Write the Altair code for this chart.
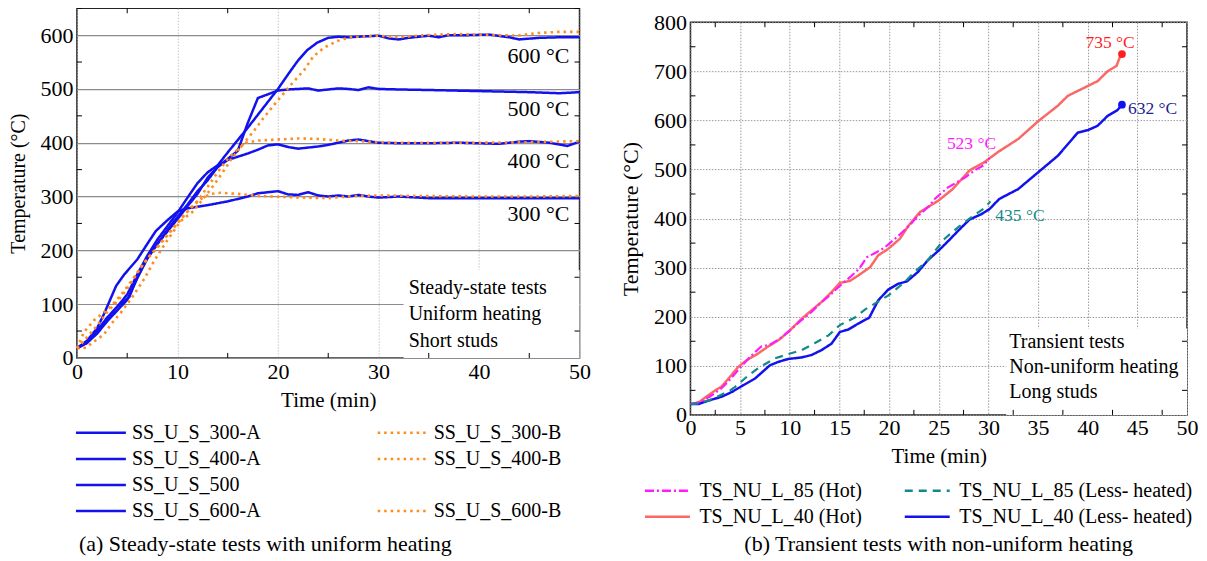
import altair as alt
import pandas as pd

FONT = "Liberation Serif"

# ---------------- Panel (a): steady-state tests, uniform heating ----------------
ss300a_t = [0, 1, 2, 2.7, 3.9, 4.7, 6, 7, 7.85, 9, 10, 11, 13, 15, 17, 18, 20, 21, 22, 23, 24, 25, 26, 27, 28, 29, 30, 32, 35, 40, 45, 50]
ss300a_T = [18, 32, 55, 82, 134, 155, 183, 212, 236, 256, 272, 278, 284, 291, 300, 306, 310, 304, 303, 308, 302, 300, 302, 300, 303, 300, 298, 300, 297, 297, 297, 297]

ss300b_t = [0, 0.7, 1.7, 2.5, 3.5, 4.5, 5.5, 6.5, 7.5, 8.5, 9.5, 10.5, 11.3, 12.3, 13.3, 14.3, 16, 17.6, 19.3, 21, 22.6, 25, 27.6, 30, 34, 40, 45, 50]
ss300b_T = [18, 48, 70, 82, 98, 120, 145, 172, 195, 218, 240, 262, 279, 295, 305, 307, 305, 302, 300, 299, 298, 297, 301, 302, 301, 300, 300, 301]

ss400a_t = [0, 1, 2, 3, 4, 5, 6, 7, 8, 9, 10, 11, 12, 13, 14, 15, 16, 17, 18, 19, 20, 21, 22, 23, 24, 25, 26, 27, 28, 29, 30, 32, 35, 38, 40, 42, 44, 45, 47, 48.8, 50]
ss400a_T = [18, 28, 45, 68, 88, 108, 148, 185, 212, 235, 258, 282, 305, 335, 355, 368, 374, 380, 387, 395, 397, 392, 389, 391, 393, 396, 400, 404, 406, 403, 400, 399, 399, 400, 399, 398, 402, 403, 400, 394, 402]

ss400b_t = [0, 1, 2, 3, 4, 5, 6, 7, 8, 9, 10, 11, 12, 13, 14, 15, 16, 16.8, 18, 20, 22, 24, 26, 28, 30, 32, 35, 40, 45, 50]
ss400b_T = [18, 38, 60, 85, 105, 128, 158, 185, 205, 228, 250, 272, 292, 318, 345, 370, 388, 400, 404, 406, 408, 407, 404, 403, 401, 400, 400, 400, 401, 403]

ss500_t = [0, 1, 2, 3, 4, 5, 5.2, 6, 7, 8, 9, 10, 11, 12, 13, 14, 15, 16, 17, 18, 19, 20, 21, 22, 23, 24, 25, 26, 27, 28, 29, 30, 32, 35, 40, 45, 48, 50]
ss500_T = [18, 30, 50, 75, 95, 110, 113, 150, 185, 212, 238, 262, 285, 310, 330, 355, 370, 385, 437, 483, 490, 497, 499, 500, 501, 497, 499, 501, 500, 498, 503, 500, 499, 498, 496, 494, 492, 494]

ss600a_t = [0, 1, 2, 3, 4, 5, 6, 7, 8, 9, 10, 11, 12, 13, 14, 15, 16, 17, 18, 19, 20, 21, 22, 22.9, 23.9, 25, 26, 27, 28, 29, 30, 31, 32, 33, 35, 36, 37, 39, 41, 43, 44, 46, 48, 50]
ss600a_T = [18, 28, 48, 72, 95, 118, 155, 190, 220, 245, 270, 298, 325, 345, 358, 382, 405, 428, 452, 476, 500, 527, 553, 572, 586, 595, 597, 596, 597, 598, 599, 594, 592, 595, 599, 596, 600, 600, 601, 596, 592, 595, 596, 596]

ss600b_t = [0, 0.9, 1.6, 2.7, 3.4, 4.4, 5.5, 6.7, 7.7, 9, 10.3, 11.6, 12.65, 13.65, 14.5, 15.3, 16, 17.6, 18.6, 19.95, 21.3, 22.6, 23.5, 24.6, 25.9, 27.2, 29.9, 31.9, 34.6, 37.9, 39.9, 43.8, 45.9, 47.9, 50]
ss600b_T = [18, 19, 29, 44, 63, 85, 113, 147, 181, 219, 254, 273, 298, 322, 345, 368, 385, 422, 447, 478, 508, 535, 560, 577, 589, 596, 599, 596, 600, 602, 601, 599, 604, 606, 606]

a_legend_order = ["SS_U_S_300-A", "SS_U_S_300-B", "SS_U_S_400-A", "SS_U_S_400-B",
                  "SS_U_S_500", " ", "SS_U_S_600-A", "SS_U_S_600-B"]
a_level_labels = ["600 °C", "500 °C", "400 °C", "300 °C"]
a_level_T = [561, 463, 366, 268]
a_box_lines = ["Steady-state tests", "Uniform heating", "Short studs"]
a_box_T = [130, 82, 32]

# ---------------- Panel (b): transient tests, non-uniform heating ----------------
l40_less_t = [0, 0.8, 1.8, 3.15, 4.2, 5.2, 6.5, 8.0, 8.85, 9.85, 11.2, 12.2, 13.2, 14.2, 15.05, 15.9, 16.9, 18.0, 18.9, 19.9, 20.9, 21.8, 22.9, 23.9, 25.0, 26.0, 27.0, 28.1, 29.3, 30.1, 31.1, 33.0, 35.0, 37.0, 39.0, 40.0, 41.0, 42.0, 43.0, 43.45]
l40_less_T = [22, 22, 29, 37, 47, 59, 74, 101, 108, 114, 117, 122, 132, 145, 169, 174, 186, 198, 233, 255, 267, 272, 291, 315, 335, 355, 376, 398, 409, 419, 440, 460, 494, 528, 575, 580, 589, 609, 621, 632]

l40_hot_t = [0, 0.8, 1.6, 2.5, 3.15, 4.0, 4.83, 5.7, 6.8, 7.8, 8.85, 9.86, 11.2, 12.2, 13.2, 14.2, 15.05, 16.06, 16.9, 18.1, 18.9, 19.9, 21.1, 21.9, 23.1, 25.0, 26.4, 28.1, 29.6, 31.0, 33.0, 35.0, 37.0, 38.0, 39.0, 40.0, 41.0, 42.0, 42.9, 43.2, 43.45]
l40_hot_T = [22, 25, 37, 50, 58, 78, 98, 112, 125, 139, 152, 169, 196, 213, 230, 250, 269, 273, 284, 301, 325, 338, 359, 384, 413, 437, 460, 498, 515, 536, 562, 598, 630, 650, 660, 670, 680, 700, 711, 727, 735]

l85_hot_t = [0, 1, 2, 3, 3.8, 5, 6, 7.1, 8, 9, 10, 11, 12, 13, 14, 15, 16.2, 17, 17.75, 18.6, 19.5, 20.9, 22, 22.9, 24, 24.6, 25.9, 27.6, 28.6, 29.5, 30.1]
l85_hot_T = [22, 26, 38, 52, 68, 96, 118, 139, 143, 155, 172, 190, 206, 226, 243, 262, 283, 298, 321, 330, 340, 364, 385, 405, 425, 440, 463, 483, 498, 508, 523]

l85_less_t = [0, 1, 2, 3, 4, 4.5, 5.7, 6.8, 8.5, 9.86, 11.2, 12.5, 13.9, 15.05, 16.6, 17.6, 19, 19.9, 21.6, 22.5, 23.9, 25.6, 27, 28.3, 29.65, 30.2]
l85_less_T = [22, 24, 31, 40, 50, 57, 78, 95, 115, 124, 132, 146, 162, 183, 199, 215, 232, 243, 271, 290, 315, 359, 383, 403, 422, 435]

b_legend_order = ["TS_NU_L_85 (Hot)", "TS_NU_L_85 (Less- heated)",
                  "TS_NU_L_40 (Hot)", "TS_NU_L_40 (Less- heated)"]
b_end_labels = ["735 °C", "632 °C", "523 °C", "435 °C"]
b_end_t = [42.25, 44.06, 28.3, 30.7]
b_end_T = [758, 623, 552, 406]
b_failure_t = [43.45, 43.45]
b_failure_T = [735, 632]
b_box_lines = ["Transient tests", "Non-uniform heating", "Long studs"]
b_box_T = [148, 97.5, 46.7]

# ---------------- styles ----------------
BLUE = "#1212EE"
ORANGE = "#FF8C1E"
MAGENTA = "#FF1AFF"
TEAL = "#138A8A"
SALMON = "#F96A66"
SOLID = [1, 0]
DOTTED = [2.5, 4]


def frame(field, name, t, T):
    assert len(t) == len(T), name
    return pd.DataFrame({field: name, "t": t, "T": T})


def axis_style(**kw):
    base = dict(domain=False, ticks=False, labelFont=FONT, labelFontSize=22, labelColor="black",
                titleFont=FONT, titleFontWeight="normal", titleColor="black",
                labelFlush=False, labelOverlap=False, labelPadding=4)
    base.update(kw)
    return alt.Axis(**base)


def minor_ticks(xe, ye, xs, ys, W, H):
    L = 5
    dx = pd.DataFrame({"t": xs})
    dy = pd.DataFrame({"T": ys})
    base = dict(color="black", strokeWidth=1)
    return [
        alt.Chart(dx).mark_rule(**base).encode(x=xe, y=alt.value(H), y2=alt.value(H - L)),
        alt.Chart(dx).mark_rule(**base).encode(x=xe, y=alt.value(0), y2=alt.value(L)),
        alt.Chart(dy).mark_rule(**base).encode(y=ye, x=alt.value(0), x2=alt.value(L)),
        alt.Chart(dy).mark_rule(**base).encode(y=ye, x=alt.value(W), x2=alt.value(W - L)),
    ]


# ---------------- panel (a) chart ----------------
WA, HA = 503, 350
xa = alt.X("t:Q", scale=alt.Scale(domain=[0, 50], nice=False, zero=False),
           axis=axis_style(values=list(range(0, 51, 10)), title="Time (min)", titleFontSize=21,
                           titlePadding=7, grid=True, gridDash=[1, 2], gridColor="#aaaaaa", gridWidth=1))
ya = alt.Y("T:Q", scale=alt.Scale(domain=[0, 650], nice=False, zero=False),
           axis=axis_style(values=list(range(0, 601, 100)), title="Temperature (°C)", titleFontSize=20,
                           titlePadding=11, grid=True, gridColor="#8c8c8c", gridWidth=1.2))

a_colors = [BLUE, ORANGE, BLUE, ORANGE, BLUE, "rgba(0,0,0,0)", BLUE, ORANGE]
a_dashes = [SOLID, DOTTED, SOLID, DOTTED, SOLID, SOLID, SOLID, DOTTED]
a_leg = alt.Legend(title=None, orient="none", legendX=14, legendY=415, columns=2, direction="horizontal",
                   padding=0, symbolType="M-5,0H5", symbolSize=100, symbolStrokeWidth=2.5,
                   labelFont=FONT, labelFontSize=20, labelColor="black", labelLimit=400,
                   labelOffset=21, rowPadding=6.1, columnPadding=112)
a_color = alt.Color("test:N", scale=alt.Scale(domain=a_legend_order, range=a_colors), legend=a_leg)
a_dash = alt.StrokeDash("test:N", scale=alt.Scale(domain=a_legend_order, range=a_dashes), legend=a_leg)

a_solid = pd.concat([frame("test", "SS_U_S_300-A", ss300a_t, ss300a_T),
                     frame("test", "SS_U_S_400-A", ss400a_t, ss400a_T),
                     frame("test", "SS_U_S_500", ss500_t, ss500_T),
                     frame("test", "SS_U_S_600-A", ss600a_t, ss600a_T)])
a_dot = pd.concat([frame("test", "SS_U_S_300-B", ss300b_t, ss300b_T),
                   frame("test", "SS_U_S_400-B", ss400b_t, ss400b_T),
                   frame("test", "SS_U_S_600-B", ss600b_t, ss600b_T)])

a_lines_solid = alt.Chart(a_solid).mark_line(strokeWidth=2.5, strokeCap="butt").encode(
    x=xa, y=ya, color=a_color, strokeDash=a_dash, detail="test:N")
a_lines_dot = alt.Chart(a_dot).mark_line(strokeWidth=2.6, strokeCap="butt").encode(
    x=xa, y=ya, color=a_color, strokeDash=a_dash, detail="test:N")

a_box = alt.Chart(pd.DataFrame({"t": [32.5], "t2": [50], "T": [0], "T2": [163]})).mark_rect(
    fill="white").encode(x=xa, x2="t2", y=ya, y2="T2")
a_box_text = alt.Chart(pd.DataFrame({"label": a_box_lines, "t": [33] * 3, "T": a_box_T})).mark_text(
    font=FONT, fontSize=20, align="left", baseline="middle", color="black").encode(x=xa, y=ya, text="label:N")
a_levels = alt.Chart(pd.DataFrame({"label": a_level_labels, "t": [49.0] * 4, "T": a_level_T})).mark_text(
    font=FONT, fontSize=22, align="right", baseline="middle", color="black").encode(x=xa, y=ya, text="label:N")

chart_a = alt.layer(
    a_lines_solid, a_lines_dot, a_box, a_box_text, a_levels,
    *minor_ticks(xa, ya, [5, 15, 25, 35, 45], list(range(50, 651, 100)), WA, HA)
).properties(
    width=WA, height=HA,
    title=alt.TitleParams(text="(a) Steady-state tests with uniform heating", orient="bottom",
                          anchor="middle", frame="group", dx=-63, offset=12, font=FONT,
                          fontSize=22, fontWeight="normal", color="black"))

# ---------------- panel (b) chart ----------------
WB, HB = 497, 393
xb = alt.X("t:Q", scale=alt.Scale(domain=[0, 50], nice=False, zero=False),
           axis=axis_style(values=list(range(0, 51, 5)), title="Time (min)", titleFontSize=21,
                           titlePadding=7, labelPadding=3, grid=True, gridDash=[1.5, 1.5],
                           gridColor="#999999", gridWidth=1))
yb = alt.Y("T:Q", scale=alt.Scale(domain=[0, 800], nice=False, zero=False),
           axis=axis_style(values=list(range(0, 801, 100)), title="Temperature (°C)", titleFontSize=22,
                           titlePadding=11, grid=True, gridDash=[1.5, 1.5], gridColor="#999999", gridWidth=1))

b_colors = [MAGENTA, TEAL, SALMON, BLUE]
b_dashes = [[9, 3, 2, 3], [8, 6], SOLID, SOLID]
b_leg = alt.Legend(title=None, orient="none", legendX=-33, legendY=473, columns=2, direction="horizontal",
                   padding=0, symbolType="M-5,0H5", symbolSize=81, symbolStrokeWidth=2.5,
                   labelFont=FONT, labelFontSize=20, labelColor="black", labelLimit=400,
                   labelOffset=22, rowPadding=6, columnPadding=37)
b_color = alt.Color("case:N", scale=alt.Scale(domain=b_legend_order, range=b_colors), legend=b_leg)
b_dash = alt.StrokeDash("case:N", scale=alt.Scale(domain=b_legend_order, range=b_dashes), legend=b_leg)

b_solid = pd.concat([frame("case", "TS_NU_L_40 (Hot)", l40_hot_t, l40_hot_T),
                     frame("case", "TS_NU_L_40 (Less- heated)", l40_less_t, l40_less_T)])
b_broken = pd.concat([frame("case", "TS_NU_L_85 (Hot)", l85_hot_t, l85_hot_T),
                      frame("case", "TS_NU_L_85 (Less- heated)", l85_less_t, l85_less_T)])

b_lines_solid = alt.Chart(b_solid).mark_line(strokeWidth=2.5).encode(
    x=xb, y=yb, color=b_color, strokeDash=b_dash, detail="case:N")
b_lines_broken = alt.Chart(b_broken).mark_line(strokeWidth=2.2, strokeCap="butt").encode(
    x=xb, y=yb, color=b_color, strokeDash=b_dash, detail="case:N")

b_points = alt.Chart(pd.DataFrame({"t": b_failure_t, "T": b_failure_T,
                                   "c": ["#FF1F1F", BLUE]})).mark_point(
    filled=True, size=60, opacity=1).encode(x=xb, y=yb, color=alt.Color("c:N", scale=None))

b_end = pd.DataFrame({"label": b_end_labels, "t": b_end_t, "T": b_end_T,
                      "c": ["#FF1F1F", "#22228F", "#FF1AFF", "#138A8A"],
                      "a": ["center", "left", "center", "left"]})
b_end_center = alt.Chart(b_end[b_end["a"] == "center"]).mark_text(
    font=FONT, fontSize=17.5, align="center", baseline="middle").encode(
    x=xb, y=yb, text="label:N", color=alt.Color("c:N", scale=None))
b_end_left = alt.Chart(b_end[b_end["a"] == "left"]).mark_text(
    font=FONT, fontSize=17.5, align="left", baseline="middle").encode(
    x=xb, y=yb, text="label:N", color=alt.Color("c:N", scale=None))

b_box = alt.Chart(pd.DataFrame({"t": [31.8], "t2": [50], "T": [0], "T2": [176]})).mark_rect(
    fill="white").encode(x=xb, x2="t2", y=yb, y2="T2")
b_box_text = alt.Chart(pd.DataFrame({"label": b_box_lines, "t": [32.1] * 3, "T": b_box_T})).mark_text(
    font=FONT, fontSize=20, align="left", baseline="middle", color="black").encode(x=xb, y=yb, text="label:N")

chart_b = alt.layer(
    b_lines_solid, b_lines_broken, b_points, b_end_center, b_end_left, b_box, b_box_text,
    *minor_ticks(xb, yb, [2.5 + 5 * i for i in range(10)], list(range(50, 801, 100)), WB, HB)
).properties(
    width=WB, height=HB,
    title=alt.TitleParams(text="(b) Transient tests with non-uniform heating", orient="bottom",
                          anchor="middle", frame="group", dx=0, offset=67, font=FONT,
                          fontSize=22, fontWeight="normal", color="black"))

# thin empty strip above panel (b) so that its tick labels do not push panel (a) down
spacer = alt.Chart(pd.DataFrame({"t": [0]})).mark_point(opacity=0, size=1).properties(
    width=WB, height=1, view=alt.ViewBackground(stroke="transparent"))
panel_b = alt.vconcat(spacer, chart_b, spacing=0)

chart = alt.concat(chart_a, panel_b, columns=2, spacing=27, align="none").resolve_scale(
    color="independent", strokeDash="independent").resolve_legend(
    color="independent", strokeDash="independent").properties(
    padding={"top": -2, "left": 0, "right": 0, "bottom": 0}).configure_view(
    stroke="#222222", strokeWidth=1.5)

chart.save("out.html", embed_options={"renderer": "svg", "actions": False})
